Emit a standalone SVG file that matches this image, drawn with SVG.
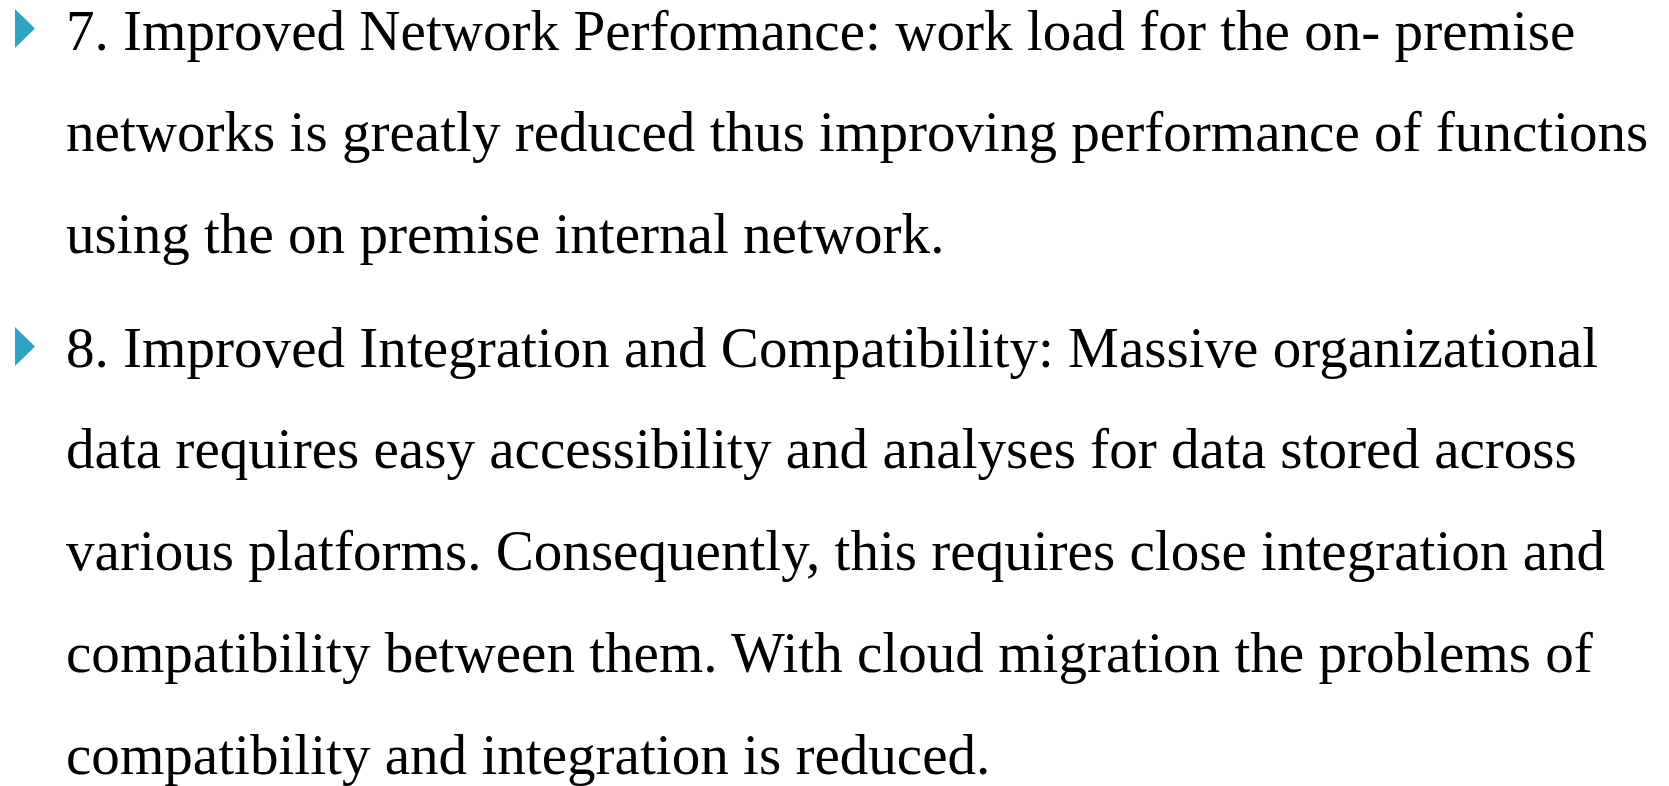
<svg xmlns="http://www.w3.org/2000/svg" width="1669" height="786" viewBox="0 0 1669 786">
<style>
.t{font-family:"Liberation Serif","Times New Roman",serif;font-size:57.1px;fill:#000}
.b{fill:#2FA4C0}
</style>
<rect width="1669" height="786" fill="#fff"/>
<g id="bullet7">
<polygon class="b" points="15,9 35,28.5 15,48"/>
<text class="t" x="66" y="50">7. Improved Network Performance: work load for the on- premise</text>
<text class="t" x="66" y="151">networks is greatly reduced thus improving performance of functions</text>
<text class="t" x="66" y="253">using the on premise internal network.</text>
</g>
<g id="bullet8">
<polygon class="b" points="15,327 35,346.5 15,366"/>
<text class="t" x="66" y="367">8. Improved Integration and Compatibility: Massive organizational</text>
<text class="t" x="66" y="468">data requires easy accessibility and analyses for data stored across</text>
<text class="t" x="66" y="570">various platforms. Consequently, this requires close integration and</text>
<text class="t" x="66" y="672">compatibility between them. With cloud migration the problems of</text>
<text class="t" x="66" y="774">compatibility and integration is reduced.</text>
</g>
</svg>
